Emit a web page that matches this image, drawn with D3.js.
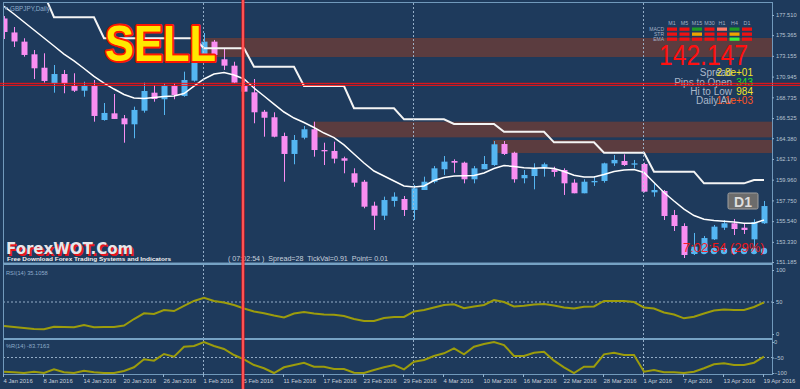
<!DOCTYPE html>
<html><head><meta charset="utf-8">
<script src="https://cdn.jsdelivr.net/npm/d3@7"></script>
<style>
html,body{margin:0;padding:0;background:#1e3a5c;overflow:hidden}
svg{display:block;font-family:"Liberation Sans",Arial,sans-serif}
</style></head><body>
<svg id="c" width="800" height="389"></svg>
<script>
// ---------------- DATA ----------------
const dateLabels = ["4 Jan 2016","8 Jan 2016","14 Jan 2016","20 Jan 2016","26 Jan 2016","1 Feb 2016","5 Feb 2016","11 Feb 2016","17 Feb 2016","23 Feb 2016","29 Feb 2016","4 Mar 2016","10 Mar 2016","16 Mar 2016","22 Mar 2016","28 Mar 2016","1 Apr 2016","7 Apr 2016","13 Apr 2016","19 Apr 2016"];
const dateTickBars = [0,4,8,12,16,20,24,28,32,36,40,44,48,52,56,60,64,68,72,76];
const priceTicks = [177.510,175.365,173.155,170.945,168.735,166.525,164.380,162.170,159.960,157.750,155.540,153.330,151.185];
const rsiTicks = [100,50,0];
const wprTicks = [0,-50,-100];

const open = [177.14,175.65,174.67,173.32,171.89,170.23,171.22,169.94,169.44,169.94,
166.32,167.03,166.50,165.86,167.31,169.23,168.53,169.94,168.88,170.51,
173.25,174.67,172.79,172.11,169.94,169.27,167.20,166.61,164.61,162.70,
164.43,165.33,163.12,163.02,162.24,160.64,159.74,157.19,156.12,157.69,
157.90,156.73,158.86,159.74,161.07,161.95,161.77,160.00,161.07,161.52,
163.76,162.83,160.11,160.35,161.28,161.07,160.99,159.64,158.51,159.68,
159.82,161.70,161.95,161.56,161.63,158.61,158.75,156.19,155.02,152.04,
152.14,153.60,154.84,155.31,154.84,153.60,155.31];
const high = [177.40,176.23,175.03,173.78,173.43,172.18,171.65,171.30,170.40,170.58,
168.13,169.09,166.85,167.74,170.30,170.05,170.23,170.23,171.47,174.13,
175.59,174.85,173.96,172.53,170.58,170.69,167.39,167.14,164.97,164.72,
165.68,166.14,163.90,164.01,162.41,161.17,159.93,157.61,158.15,158.61,
158.22,159.39,160.28,161.42,162.48,162.13,161.88,161.42,162.48,164.08,
164.08,162.94,160.99,161.70,161.77,161.34,161.17,160.00,160.00,160.28,
161.77,162.59,162.66,162.06,161.77,159.57,158.86,156.73,155.31,154.28,
153.96,155.13,155.66,155.77,155.31,155.74,157.69];
const low = [174.95,174.10,173.07,170.69,170.30,169.23,169.17,169.30,168.80,166.14,
166.25,166.43,163.90,164.37,167.10,168.27,166.85,168.53,168.80,170.40,
173.07,172.53,171.65,170.23,169.34,165.97,164.54,164.47,159.74,161.60,
164.26,162.41,161.52,161.70,160.64,159.21,156.91,154.60,155.66,157.08,
156.09,155.66,158.86,159.57,160.46,160.70,159.57,159.57,161.07,161.42,
162.59,159.64,159.57,158.93,160.28,160.28,158.33,158.51,158.51,159.29,
159.64,161.42,161.42,161.17,158.61,158.15,155.66,154.49,151.61,151.93,
152.14,153.53,154.60,154.06,154.17,152.46,155.24];
const close = [175.70,174.69,173.25,171.83,170.48,171.22,170.23,169.44,169.94,166.75,
167.07,166.43,165.86,167.39,169.41,168.56,169.94,168.98,170.58,172.53,
174.67,173.25,172.11,170.30,169.34,167.14,166.56,164.54,162.70,164.19,
165.33,163.12,162.98,162.20,161.98,159.64,157.08,156.12,157.79,158.15,
156.73,159.04,159.74,161.17,161.88,161.77,160.00,161.17,161.63,163.73,
162.70,160.00,160.46,161.17,161.60,160.78,159.57,158.51,159.74,159.82,
161.70,162.06,161.52,161.70,158.68,158.86,156.09,155.02,151.93,152.82,
153.74,154.95,155.31,154.70,154.60,155.45,157.15];
const maLine = [178.42,177.62,176.76,175.91,175.06,174.21,173.35,172.61,171.81,170.96,
170.26,169.62,169.04,168.66,168.61,168.72,168.82,168.88,169.14,169.94,
170.69,171.22,171.38,171.12,170.69,169.73,168.88,168.02,167.17,166.53,
166.05,165.52,164.93,164.45,163.66,162.70,161.74,160.88,160.35,159.82,
159.29,159.18,159.29,159.87,160.19,160.35,160.38,160.41,160.67,161.15,
161.47,161.36,161.22,161.17,161.22,161.15,160.83,160.43,160.25,160.25,
160.51,160.83,160.99,161.04,160.72,159.66,158.59,157.69,156.83,156.14,
155.74,155.61,155.52,155.45,155.31,155.31,155.66];
const stepLine = [179.75,179.75,179.75,179.75,179.75,177.27,177.27,177.27,177.27,177.27,
175.03,175.03,175.03,175.03,175.03,175.03,175.03,175.03,175.03,175.03,
173.96,173.96,173.96,173.96,173.96,172.00,172.00,172.00,172.00,172.00,
169.94,169.94,169.94,169.94,169.94,167.57,167.57,167.57,167.57,167.57,
166.39,166.39,166.39,166.39,166.39,165.89,165.89,165.89,165.89,165.89,
165.07,165.07,165.07,165.07,165.07,163.94,163.94,163.94,163.94,163.94,
162.83,162.83,162.83,162.83,162.83,160.81,160.81,160.81,160.81,160.81,
159.57,159.57,159.57,159.57,159.57,159.93,159.93];
const rsi = [12.5,10.9,9.4,7.8,7.5,11.4,10.9,10.5,14.1,10.5,
10.9,10.9,13.3,23.4,32.3,31.3,37.5,35.9,43.8,51.6,
56.7,51.6,49.2,45.3,39.8,35.2,32.5,28.9,25.8,32.0,
34.4,32.0,30.5,30.0,28.1,23.4,20.3,20.3,25.0,26.6,
26.6,35.2,37.5,41.4,45.3,46.4,40.2,43.0,45.3,53.1,
50.0,43.0,44.1,46.1,46.9,44.5,41.4,39.8,42.7,43.0,
51.6,51.6,51.6,50.0,41.4,39.8,33.6,30.5,24.5,27.0,
32.0,36.7,38.3,37.5,37.5,42.2,49.2];
const wpr = [-95.8,-97.7,-100,-95.8,-100,-88.1,-97.7,-100,-92.6,-97.7,
-100,-100,-93.5,-81.6,-55.8,-60.3,-38.7,-47.4,-15.2,-12.9,
0,-12.9,-22.6,-41.9,-55.8,-74.2,-84.8,-100,-81.6,-74.2,
-66.8,-79.7,-79.7,-87.1,-87.1,-99.0,-100,-90.3,-81.6,-74.2,
-88.1,-63.5,-58.1,-45.2,-36.5,-20.3,-39.7,-15.2,-6.5,0,
-9.7,-45.2,-45.2,-34.5,-31.3,-60.3,-81.6,-100,-79.7,-79.7,
-39.7,-34.5,-41.9,-41.9,-95.8,-90.3,-97.7,-97.7,-100,-95.8,
-84.8,-71.9,-68.7,-74.2,-74.2,-66.8,-47.4];
const zoneFrom = [20,31,49];
const zoneTop = [175.06,166.14,164.19];
const zoneBottom = [173.03,164.47,162.80];
const separatorBars = [20,41,64];
const signalDotBars = [69,70,71,72,73,74,75,76];
const sellLevel = 170.12;
const sellBar = 24;
const tfLabels = ["M1","M5","M15","M30","H1","H4","D1"];
const rowLabels = ["MACD","STR","EMA"];
const macdState = ["dn","dn","up","dn","weak","up","dn"];
const strState  = ["dn","dn","flat","dn","dn","flat","dn"];
const emaState  = ["dn","dn","dn","dn","dn","strong","dn"];
const infoLabels = ["Spread","Pips to Open","Hi to Low","Daily Av"];
const infoValues = ["2.8e+01","343","984","1.1e+03"];
const bidText = "142.147";

// ---------------- DRAW ----------------
const svg = d3.select("#c");
const W=800,H=389;
const PL=3, PR=772, mainT=3, mainB=263, rsiT=265, rsiB=338, wprT=340, wprB=374;
const BG="#1e3a5c", FRAME="#7199bb", AXT="#b9c5d3";
const BULL="#55b6f2", BEAR="#f98ef2", OLIVE="#9c9c0c";

const x = d3.scaleLinear().domain([0,76]).range([4,764]);
const yP = d3.scaleLinear().domain([151.185,177.51]).range([262,15]);
const yR = d3.scaleLinear().domain([0,100]).range([334,270]);
const yW = d3.scaleLinear().domain([-100,0]).range([373,342]);

svg.append("rect").attr("width",W).attr("height",H).attr("fill",BG);
const defs = svg.append("defs");
defs.append("clipPath").attr("id","cm").append("rect").attr("x",PL).attr("y",mainT).attr("width",PR-PL).attr("height",mainB-mainT);
defs.append("clipPath").attr("id","cr").append("rect").attr("x",PL).attr("y",rsiT).attr("width",PR-PL).attr("height",rsiB-rsiT);
defs.append("clipPath").attr("id","cw").append("rect").attr("x",PL).attr("y",wprT).attr("width",PR-PL).attr("height",wprB-wprT+1);

const main = svg.append("g").attr("clip-path","url(#cm)");

// zones
main.selectAll("rect.zone").data(zoneFrom).join("rect").attr("class","zone")
  .attr("x",(d)=>x(d)-1).attr("width",(d)=>PR-(x(d)-1))
  .attr("y",(d,i)=>yP(zoneTop[i])).attr("height",(d,i)=>yP(zoneBottom[i])-yP(zoneTop[i]))
  .attr("fill","#5b3c3f");

// period separators
const panels=[[mainT,mainB],[rsiT,rsiB],[wprT,wprB]];
panels.forEach(p=>{
  svg.selectAll(null).data(separatorBars).join("line")
    .attr("x1",d=>x(d)-0.5).attr("x2",d=>x(d)-0.5).attr("y1",p[0]).attr("y2",p[1])
    .attr("stroke","#a9c2da").attr("stroke-width",1).attr("stroke-dasharray","2,2").attr("opacity",0.85);
});

// candles
const idx = d3.range(open.length);
main.selectAll("line.wick").data(idx).join("line").attr("class","wick")
  .attr("x1",i=>x(i)+0.5).attr("x2",i=>x(i)+0.5)
  .attr("y1",i=>yP(high[i])).attr("y2",i=>yP(low[i]))
  .attr("stroke",i=>close[i]>=open[i]?BULL:BEAR).attr("stroke-width",1);
main.selectAll("rect.body").data(idx).join("rect").attr("class","body")
  .attr("x",i=>x(i)-2.5).attr("width",6)
  .attr("y",i=>yP(Math.max(open[i],close[i])))
  .attr("height",i=>Math.max(1.2,Math.abs(yP(open[i])-yP(close[i]))))
  .attr("fill",i=>close[i]>=open[i]?BULL:BEAR);

// lines
main.append("path").datum(stepLine)
  .attr("d",d3.line().x((d,i)=>x(i)).y(d=>yP(d)))
  .attr("fill","none").attr("stroke","#f4f4f4").attr("stroke-width",2);
main.append("path").datum(maLine)
  .attr("d",d3.line().x((d,i)=>x(i)).y(d=>yP(d)))
  .attr("fill","none").attr("stroke","#ffffff").attr("stroke-width",1.5);

// signal dots
main.selectAll("circle.sig").data(signalDotBars).join("circle").attr("class","sig")
  .attr("cx",d=>x(d)).attr("cy",251).attr("r",3.2).attr("fill",BULL);

// RSI panel
const gR = svg.append("g").attr("clip-path","url(#cr)");
gR.append("line").attr("x1",PL).attr("x2",PR).attr("y1",yR(50)).attr("y2",yR(50))
  .attr("stroke","#a9c2da").attr("stroke-dasharray","2,2").attr("opacity",0.85);
gR.append("path").datum(rsi).attr("d",d3.line().x((d,i)=>x(i)).y(d=>yR(d)))
  .attr("fill","none").attr("stroke",OLIVE).attr("stroke-width",2);
// %R panel
const gW = svg.append("g").attr("clip-path","url(#cw)");
gW.append("line").attr("x1",PL).attr("x2",PR).attr("y1",yW(-50)).attr("y2",yW(-50))
  .attr("stroke","#a9c2da").attr("stroke-dasharray","2,2").attr("opacity",0.85);
gW.append("path").datum(wpr).attr("d",d3.line().x((d,i)=>x(i)).y(d=>yW(d)))
  .attr("fill","none").attr("stroke",OLIVE).attr("stroke-width",2);

// frames
const fr = svg.append("g").attr("fill","none").attr("stroke",FRAME);
fr.append("rect").attr("x",PL+0.5).attr("y",2.5).attr("width",PR-PL).attr("height",mainB-2.5);
fr.append("line").attr("x1",PL).attr("x2",PR+1).attr("y1",264).attr("y2",264).attr("stroke-width",2.2).attr("stroke","#76a2c4");
fr.append("line").attr("x1",PL).attr("x2",PR+1).attr("y1",339).attr("y2",339).attr("stroke-width",2.2).attr("stroke","#76a2c4");
fr.append("line").attr("x1",PL+0.5).attr("x2",PL+0.5).attr("y1",264).attr("y2",wprB);
fr.append("line").attr("x1",PR+0.5).attr("x2",PR+0.5).attr("y1",2).attr("y2",wprB);
fr.append("line").attr("x1",PL).attr("x2",PR+1).attr("y1",wprB+0.5).attr("y2",wprB+0.5);

// axes
function styleAxis(g){
  g.select(".domain").remove();
  g.selectAll(".tick line").attr("stroke","#8fb0cc");
  g.selectAll(".tick text").attr("fill",AXT).attr("font-size","5.7px").attr("font-family","Liberation Sans, Arial, sans-serif");
}
svg.append("g").attr("transform",`translate(${PR},0)`)
  .call(d3.axisRight(yP).tickValues(priceTicks).tickFormat(d3.format(".3f")).tickSize(2).tickPadding(2))
  .call(styleAxis);
svg.append("g").attr("transform",`translate(${PR},0)`)
  .call(d3.axisRight(yR).tickValues(rsiTicks).tickFormat(d3.format("d")).tickSize(2).tickPadding(2))
  .call(styleAxis);
svg.append("g").attr("transform",`translate(${PR},0)`)
  .call(d3.axisRight(yW).tickValues(wprTicks).tickFormat(d3.format("d")).tickSize(2).tickPadding(0))
  .call(styleAxis);
const xa = svg.append("g").attr("transform",`translate(0,${wprB})`)
  .call(d3.axisBottom(x).tickValues(dateTickBars).tickFormat((d,i)=>dateLabels[i]).tickSize(3))
  .call(styleAxis);
xa.selectAll(".tick line").attr("transform","translate(-1,0)");
xa.selectAll(".tick text").attr("text-anchor","start").attr("x",-1).attr("y",9).attr("dy",0).attr("font-size","5.9px").attr("fill","#c6cfdb");

// labels
const t = svg.append("g");
t.append("text").attr("x",10).attr("y",11).attr("font-size","6.3px").attr("fill","#8eaccb").text("GBPJPY,Daily");
t.append("path").attr("d","M4,7 L8,7 L6,10 Z").attr("fill","#8eaccb");
t.append("text").attr("x",6).attr("y",274.5).attr("font-size","5.7px").attr("fill","#8eaccb").text("RSI(14) 35.1058");
t.append("text").attr("x",6).attr("y",348).attr("font-size","5.7px").attr("fill","#8eaccb").text("%R(14) -83.7163");

// SELL
t.append("text").attr("x",105).attr("y",61.3).attr("font-size","50px").attr("font-weight","bold")
  .attr("textLength",111).attr("lengthAdjust","spacingAndGlyphs")
  .attr("fill","#ffe800").attr("stroke","#ff1800").attr("stroke-width",4).attr("paint-order","stroke")
  .attr("stroke-linejoin","round").text("SELL");

// watermark
t.append("text").attr("x",7.5).attr("y",255.5).attr("font-family","DejaVu Sans, sans-serif").attr("font-weight","bold")
  .attr("font-size","15px").attr("fill","#e8141c").text("ForexWOT.Com");
t.append("text").attr("x",6).attr("y",254).attr("font-family","DejaVu Sans, sans-serif").attr("font-weight","bold")
  .attr("font-size","15px").attr("fill","#e6e6ea").text("ForexWOT.Com");
t.append("text").attr("x",7).attr("y",261.3).attr("font-weight","bold").attr("font-size","5.9px")
  .attr("textLength",164).attr("lengthAdjust","spacingAndGlyphs").attr("fill","#f2f2f2")
  .text("Free Download Forex Trading Systems and Indicators");
t.append("text").attr("x",228).attr("y",261).attr("font-size","6.4px").attr("fill","#c8d0dc")
  .attr("textLength",160).attr("lengthAdjust","spacingAndGlyphs").style("white-space","pre")
  .text("( 07:02:54 )  Spread=28  TickVal=0.91  Point= 0.01");

// timeframe matrix
const colX = d3.scaleLinear().domain([0,6]).range([672,747]);
const rowY = [27.5,32.5,37.5];
const stateColor = {dn:"#ee1212", up:"#1f9a26", weak:"#ff7a66", flat:"#eea400", strong:"#3cf23c"};
t.selectAll("text.tf").data(tfLabels).join("text").attr("class","tf")
  .attr("x",(d,i)=>colX(i)).attr("y",24.5).attr("text-anchor","middle")
  .attr("font-size","5.3px").attr("fill","#a4b2c6").text(d=>d);
t.selectAll("text.row").data(rowLabels).join("text").attr("class","row")
  .attr("x",664).attr("y",(d,i)=>rowY[i]+3).attr("text-anchor","end")
  .attr("font-size","5px").attr("fill","#a4b2c6").text(d=>d);
[macdState,strState,emaState].forEach((row,r)=>{
  t.selectAll(null).data(row).join("rect")
    .attr("x",(d,i)=>colX(i)-5).attr("y",rowY[r]).attr("width",10).attr("height",3.3)
    .attr("fill",d=>stateColor[d]);
});
t.append("text").attr("x",659).attr("y",65).attr("font-size","30px").attr("fill","#ff1010")
  .attr("textLength",89).attr("lengthAdjust","spacingAndGlyphs").text(bidText);
const infoY=[76,86,95.3,103.6];
const infoCol=["#f4e42a","#22e222","#f4e42a","#ff5522"];
infoLabels.forEach((s,i)=>{
  t.append("text").attr("x",732).attr("y",infoY[i]).attr("text-anchor","end").attr("font-size","10px")
    .attr("fill","#aab8ca").text(s);
});
infoValues.forEach((s,i)=>{
  t.append("text").attr("x",753).attr("y",infoY[i]).attr("text-anchor","end").attr("font-size","10px")
    .attr("fill",infoCol[i]).text(s);
});

// D1 badge
t.append("rect").attr("x",728).attr("y",193).attr("width",30).attr("height",16).attr("rx",1.5)
  .attr("fill","#6c6c6c").attr("stroke","#a0a0a0").attr("stroke-width",1);
t.append("text").attr("x",743).attr("y",206.5).attr("text-anchor","middle").attr("font-size","14px")
  .attr("font-weight","bold").attr("fill","#dedede").text("D1");

// countdown
t.append("text").attr("x",683).attr("y",251.5).attr("font-size","13px").attr("fill","#ff1414").attr("opacity",0.92)
  .text("7:02:54 (29%)");

// red lines
const rl = svg.append("g");
const ys = yP(sellLevel);
rl.append("line").attr("x1",0).attr("x2",W).attr("y1",ys-1).attr("y2",ys-1).attr("stroke","#ff1010").attr("stroke-width",1);
rl.append("line").attr("x1",0).attr("x2",W).attr("y1",ys+1).attr("y2",ys+1).attr("stroke","#ff1010").attr("stroke-width",1);
const xs = x(sellBar)-1;
rl.append("rect").attr("x",xs-1.5).attr("y",0).attr("width",3).attr("height",H).attr("fill","#ff1010");
rl.append("line").attr("x1",xs).attr("x2",xs).attr("y1",0).attr("y2",H).attr("stroke","#ffb8b8").attr("stroke-width",0.8);
</script>
</body></html>
